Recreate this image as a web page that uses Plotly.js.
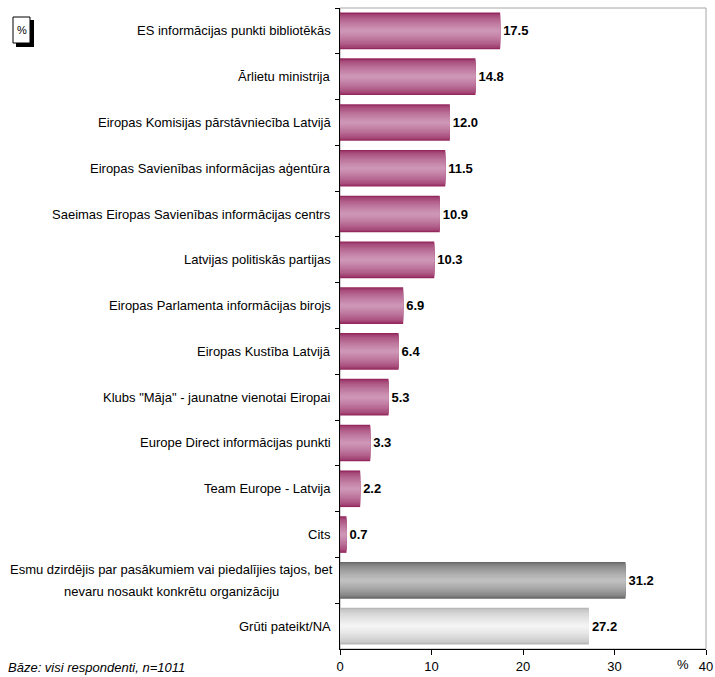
<!DOCTYPE html>
<html>
<head>
<meta charset="utf-8">
<script src="https://cdn.plot.ly/plotly-3.0.1.min.js"></script>
<style>html,body{margin:0;padding:0;background:#fff;}#chart{width:715px;height:677px;}</style>
</head>
<body>
<div id="chart"></div>
<script>
const categories = [
  "ES informācijas punkti bibliotēkās",
  "Ārlietu ministrija",
  "Eiropas Komisijas pārstāvniecība Latvijā",
  "Eiropas Savienības informācijas aģentūra",
  "Saeimas Eiropas Savienības informācijas centrs",
  "Latvijas politiskās partijas",
  "Eiropas Parlamenta informācijas birojs",
  "Eiropas Kustība Latvijā",
  "Klubs \"Māja\" - jaunatne vienotai Eiropai",
  "Europe Direct informācijas punkti",
  "Team Europe - Latvija",
  "Cits",
  "Esmu dzirdējis par pasākumiem vai piedalījies tajos, bet<br>nevaru nosaukt konkrētu organizāciju",
  "Grūti pateikt/NA"
];
const values = [17.5, 14.8, 12.0, 11.5, 10.9, 10.3, 6.9, 6.4, 5.3, 3.3, 2.2, 0.7, 31.2, 27.2];
const barGroup = ["org","org","org","org","org","org","org","org","org","org","org","org","heard","na"];
const xTicks = [0, 10, 20, 30, 40];
const footnote = "Bāze: visi respondenti, n=1011";

// gradient palettes (edge -> center)
const palette = {
  org:   {edge: [148, 40, 94],  center: [206, 150, 182]},
  heard: {edge: [104, 104, 104], center: [192, 192, 192]},
  na:    {edge: [184, 184, 184], center: [244, 244, 244]}
};
function mix(a, b, t) {
  return 'rgb(' + a.map((v, i) => Math.round(v + (b[i] - v) * t)).join(',') + ')';
}

const FONT = '"Liberation Sans", Arial, sans-serif';
const FS = 13;
const nLayers = 14;
const fullWidth = 0.8;
const traces = [];
for (let k = 0; k < nLayers; k++) {
  const frac = k / (nLayers - 1);
  const t = Math.pow(frac, 0.6);
  const w = fullWidth * (1 - k / nLayers);
  const tr = {
    type: 'bar',
    orientation: 'h',
    x: values,
    y: categories,
    width: categories.map(() => w),
    marker: {color: barGroup.map(g => mix(palette[g].edge, palette[g].center, t)), line: {width: 0}},
    hoverinfo: 'skip',
    showlegend: false
  };
  if (k === 0) {
    tr.text = values.map(v => v.toFixed(1));
    tr.textposition = 'outside';
    tr.textfont = {family: FONT, size: FS, color: '#000'};
    tr.texttemplate = '<b>%{text}</b>';
    tr.cliponaxis = false;
  }
  traces.push(tr);
}

// measure label widths for centered multi-line labels
const cv = document.createElement('canvas').getContext('2d');
cv.font = FS + 'px "Liberation Sans"';
const annotations = [];
categories.forEach(c => {
  const lines = c.split('<br>');
  const maxW = Math.max(...lines.map(l => cv.measureText(l).width));
  lines.forEach((l, j) => {
    const single = lines.length === 1;
    annotations.push({
      xref: 'paper', yref: 'y', x: 0, y: c,
      text: l, showarrow: false,
      xanchor: single ? 'right' : 'center',
      xshift: single ? -7 : -7 - maxW / 2,
      yshift: ((lines.length - 1) / 2 - j) * 22,
      font: {family: FONT, size: FS, color: '#000'}
    });
  });
});
annotations.push({
  xref: 'paper', yref: 'paper', x: 0, y: 0, xanchor: 'left', yanchor: 'bottom',
  xshift: -334, yshift: -28, text: '<i>' + footnote + '</i>', showarrow: false,
  font: {family: FONT, size: FS, color: '#000'}
});
annotations.push({
  xref: 'x', yref: 'paper', x: 40, y: 0, xanchor: 'center', yanchor: 'top',
  xshift: -23, yshift: -6, text: '%', showarrow: false,
  font: {family: FONT, size: FS, color: '#000'}
});
annotations.push({
  xref: 'paper', yref: 'paper', x: 0, y: 1, xanchor: 'center', yanchor: 'middle',
  xshift: -318.5, yshift: -22, text: '%', showarrow: false,
  font: {family: FONT, size: 11, color: '#000'}
});

const shapes = [
  {type: 'rect', xref: 'paper', yref: 'paper', x0: 0, x1: 1, y0: 0, y1: 1,
   line: {color: '#a6a6a6', width: 1}, layer: 'below'},
  {type: 'rect', xref: 'paper', yref: 'paper', xsizemode: 'pixel', ysizemode: 'pixel',
   xanchor: 0, yanchor: 1, x0: -324, x1: -306, y0: -39, y1: -12,
   fillcolor: '#000', line: {width: 0}},
  {type: 'rect', xref: 'paper', yref: 'paper', xsizemode: 'pixel', ysizemode: 'pixel',
   xanchor: 0, yanchor: 1, x0: -327, x1: -310, y0: -35, y1: -9,
   fillcolor: '#fff', line: {color: '#000', width: 1}}
];

const layout = {
  width: 715, height: 677,
  margin: {l: 340, r: 9, t: 8, b: 28, pad: 0},
  paper_bgcolor: '#fff', plot_bgcolor: '#fff',
  barmode: 'overlay',
  showlegend: false,
  font: {family: FONT, size: FS, color: '#000'},
  xaxis: {
    range: [0, 40], tickvals: xTicks, ticktext: xTicks.map(String),
    showgrid: false, zeroline: false, showline: true, linecolor: '#000', linewidth: 1,
    ticks: 'outside', ticklen: 5, tickcolor: '#000',
    tickfont: {family: FONT, size: FS, color: '#000'}, fixedrange: true
  },
  yaxis: {
    type: 'category', autorange: 'reversed',
    showticklabels: false, showgrid: false, zeroline: false,
    showline: true, linecolor: '#000', linewidth: 1,
    ticks: 'outside', tickson: 'boundaries', ticklen: 4, tickcolor: '#000', fixedrange: true
  },
  annotations: annotations,
  shapes: shapes
};

Plotly.newPlot('chart', traces, layout, {displayModeBar: false, staticPlot: true});
</script>
</body>
</html>
